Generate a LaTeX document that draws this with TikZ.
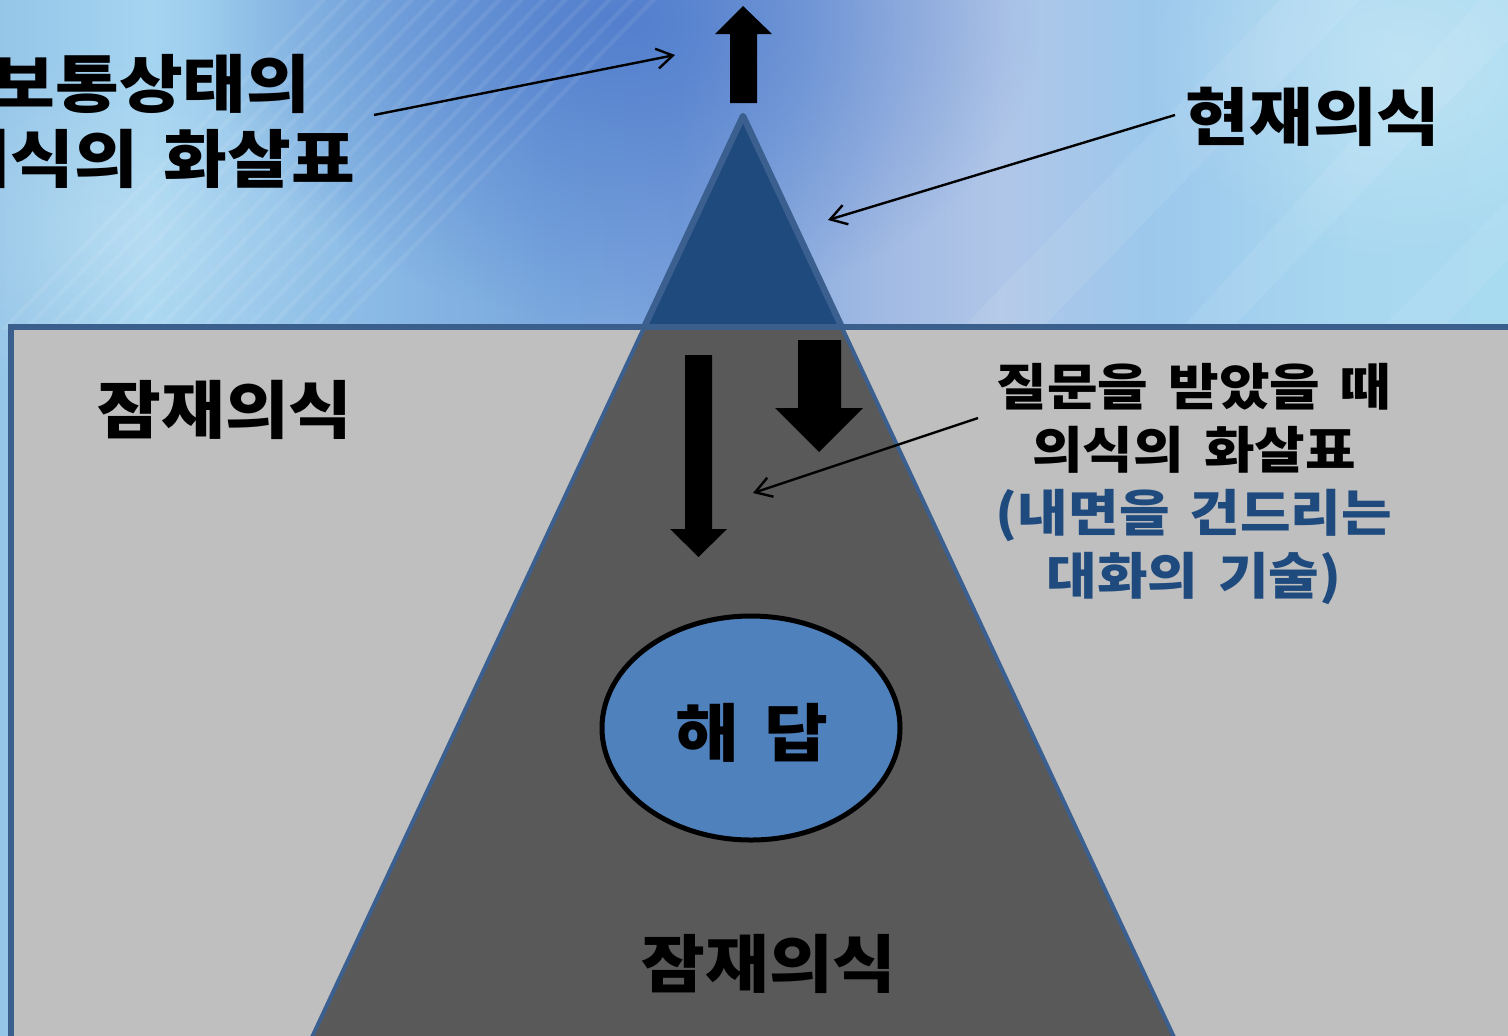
\documentclass[tikz,border=0pt]{standalone}
\usepackage{fontspec}
\newfontfamily\kr{Noto Sans CJK KR}[FakeStretch=1.1, WordSpace=1.6]
\usetikzlibrary{arrows.meta,fadings,shapes.geometric}
\definecolor{s0}{HTML}{95C6E8}
\definecolor{s1}{HTML}{A4D4F0}
\definecolor{s2}{HTML}{8CBCE6}
\definecolor{s3}{HTML}{7AA8DE}
\definecolor{s4}{HTML}{7AA2DC}
\definecolor{s5}{HTML}{A4BCE4}
\definecolor{s6}{HTML}{B0C6E8}
\definecolor{s7}{HTML}{9CC8EC}
\definecolor{s8}{HTML}{A8D8F0}
\definecolor{s9}{HTML}{A8DAF0}
\definecolor{skydark}{HTML}{4C78CA}
\definecolor{lgray}{HTML}{BFBFBF}
\definecolor{dgray}{HTML}{595959}
\definecolor{rimblue}{HTML}{3A5F8C}
\definecolor{tipfill}{HTML}{1F4A7D}
\definecolor{tiprim}{HTML}{3B5F8E}
\definecolor{egg}{HTML}{4F81BD}
\definecolor{navy}{HTML}{1F4A7E}
\pgfdeclarehorizontalshading{skyh}{100bp}{color(0bp)=(s0); color(25bp)=(s0); color(29.97bp)=(s1); color(36.6bp)=(s2); color(43.2bp)=(s3); color(47.5bp)=(s4); color(54.8bp)=(s5); color(58.2bp)=(s6); color(63.1bp)=(s7); color(69.8bp)=(s8); color(75bp)=(s9); color(100bp)=(s9)}
\tikzfading[name=softspot, inner color=transparent!0, outer color=transparent!100]
\begin{document}
\begin{tikzpicture}[x=0.5pt,y=-0.5pt,
  bigtxt/.style={font=\kr\bfseries\fontsize{31.5}{37.5}\selectfont, inner sep=0pt, align=center},
  midtxt/.style={font=\kr\bfseries\fontsize{25}{31.5}\selectfont, inner sep=0pt, align=center},
  pointer/.style={line width=1.2pt, -{Straight Barb[length=8pt,width=10pt,line width=1.2pt]}},
  blockarrow/.style={fill=black},
  streak/.style={fill=white, fill opacity=0.08}]
\clip (0,0) rectangle (1508,1035);
% sky
\shade[shading=skyh] (0,0) rectangle (1508,1035);
\fill[skydark, fill opacity=0.85, path fading=softspot] (620,20) ellipse (420 and 300);
\fill[white, fill opacity=0.25, path fading=softspot] (1400,60) ellipse (260 and 200);
\fill[white, fill opacity=0.2, path fading=softspot] (120,230) ellipse (240 and 180);
\foreach \k in {0,22,...,330} {\fill[streak] (\k,330) -- (\k+6,330) -- (\k+326,0) -- (\k+320,0) -- cycle;}
\fill[streak] (960,330) -- (1040,330) -- (1360,0) -- (1280,0) -- cycle;
\fill[streak] (1180,330) -- (1230,330) -- (1508,40) -- (1508,0) -- (1480,0) -- cycle;
\fill[streak] (1380,330) -- (1440,330) -- (1508,260) -- (1508,200) -- cycle;
% water box
\draw[fill=lgray, draw=rimblue, line width=3pt] (10.5,327) rectangle (1530,1060);
% iceberg
\coordinate (apex) at (743,116);
\coordinate (bl) at (299,1065);
\coordinate (br) at (1187,1065);
\draw[fill=dgray, draw=tiprim, line width=2pt, line join=round] (apex) -- (bl) -- (br) -- cycle;
\begin{scope}
\clip (0,0) rectangle (1508,327);
\draw[fill=tipfill, draw=tiprim, line width=3.2pt, line join=round] (apex) -- (bl) -- (br) -- cycle;
\end{scope}
\draw[draw=rimblue, line width=3pt] (10.5,327) -- (1508,327);
% block arrows
\fill[blockarrow] (730,103) -- (730,34) -- (715,34) -- (743,6) -- (772,34) -- (757,34) -- (757,103) -- cycle;
\fill[blockarrow] (685,355) -- (712,355) -- (712,529) -- (727,529) -- (698.5,557) -- (670,529) -- (685,529) -- cycle;
\fill[blockarrow] (798,340) -- (841,340) -- (841,408) -- (863,408) -- (819,452) -- (775,408) -- (798,408) -- cycle;
% answer
\node[ellipse, draw=black, line width=2.5pt, fill=egg, minimum width=149pt, minimum height=112pt, inner sep=0pt] (answer) at (751,728) {};
\node[bigtxt] (answertxt) at (752,733) {해 답};
% labels
\node[bigtxt] (normal) at (151,121) {보통상태의\\의식의 화살표};
\node[bigtxt] (present) at (1313,117) {현재의식};
\node[bigtxt] (latentl) at (225,410) {잠재의식};
\node[bigtxt] (latentb) at (769,964) {잠재의식};
\node[midtxt] (asked) at (1194,484) {질문을 받았을 때\\의식의 화살표\\\textcolor{navy}{(내면을 건드리는}\\\textcolor{navy}{대화의 기술)}};
% pointers
\coordinate (p1s) at (374,115);
\coordinate (p1e) at (675,55);
\coordinate (p2s) at (1175,115);
\coordinate (p2e) at (828,220);
\coordinate (p3s) at (978,418);
\coordinate (p3e) at (753,493);
\draw[pointer] (p1s) -- (p1e);
\draw[pointer] (p2s) -- (p2e);
\draw[pointer] (p3s) -- (p3e);
\end{tikzpicture}
\end{document}
